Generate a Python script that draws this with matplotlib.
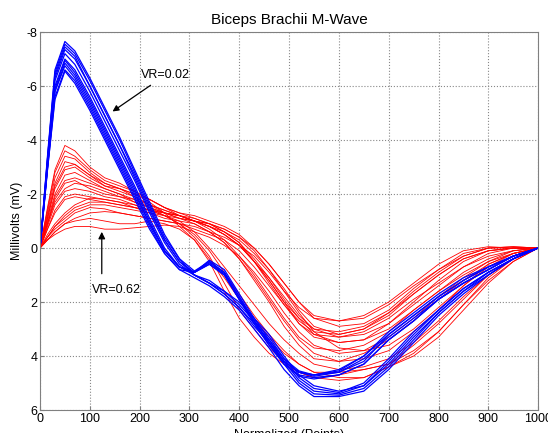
import matplotlib
matplotlib.use("Agg")
import matplotlib.pyplot as plt

plt.rcParams["font.family"] = ["Liberation Sans", "DejaVu Sans"]
plt.rcParams["axes.unicode_minus"] = False

# normalized sample positions (points)
x = [0, 15, 30, 50, 70, 100, 130, 160, 190, 220, 250, 280, 310, 340, 370,
     400, 430, 460, 490, 520, 550, 600, 650, 700, 750, 800, 850, 900, 950, 1000]

# VR=0.02 traces (blue)
blue = [
    [0, -3.4, -6.6, -7.65, -7.3, -6.3, -5.2, -4.1, -2.9, -1.7, -0.5, 0.4, 1.0, 1.3, 1.7,
     2.2, 2.8, 3.4, 4.2, 4.9, 5.3, 5.4, 5.1, 4.3, 3.3, 2.4, 1.6, 0.9, 0.4, 0],
    [0, -3.3, -6.5, -7.55, -7.2, -6.2, -5.1, -4.0, -2.8, -1.6, -0.4, 0.4, 0.85, 0.5, 0.9,
     1.8, 2.7, 3.5, 4.2, 4.6, 4.75, 4.6, 4.1, 3.3, 2.6, 1.9, 1.3, 0.8, 0.3, 0],
    [0, -3.3, -6.4, -7.45, -7.1, -6.0, -4.9, -3.8, -2.6, -1.4, -0.3, 0.5, 0.9, 0.45, 0.8,
     1.7, 2.6, 3.4, 4.1, 4.55, 4.7, 4.55, 4.0, 3.2, 2.5, 1.8, 1.2, 0.7, 0.3, 0],
    [0, -3.2, -6.3, -7.35, -7.0, -6.0, -4.9, -3.8, -2.7, -1.5, -0.3, 0.5, 1.0, 1.3, 1.6,
     2.1, 2.7, 3.3, 4.1, 4.8, 5.2, 5.35, 5.0, 4.1, 3.1, 2.3, 1.5, 0.9, 0.4, 0],
    [0, -3.1, -6.2, -7.2, -6.8, -5.8, -4.7, -3.6, -2.5, -1.3, -0.2, 0.6, 1.0, 1.2, 1.6,
     2.0, 2.6, 3.2, 4.0, 4.7, 5.1, 5.3, 5.1, 4.2, 3.2, 2.3, 1.5, 0.9, 0.4, 0],
    [0, -3.0, -6.0, -7.0, -6.6, -5.6, -4.5, -3.4, -2.3, -1.1, 0.0, 0.7, 0.9, 0.55, 0.95,
     1.9, 2.8, 3.6, 4.3, 4.7, 4.8, 4.7, 4.3, 3.4, 2.7, 1.9, 1.3, 0.8, 0.3, 0],
    [0, -3.1, -5.9, -6.95, -6.5, -5.5, -4.4, -3.3, -2.2, -1.0, 0.1, 0.7, 0.9, 0.5, 0.9,
     1.8, 2.7, 3.5, 4.2, 4.6, 4.7, 4.6, 4.2, 3.2, 2.5, 1.8, 1.2, 0.7, 0.3, 0],
    [0, -3.0, -5.8, -6.85, -6.4, -5.4, -4.3, -3.2, -2.1, -0.9, 0.1, 0.7, 1.0, 1.3, 1.7,
     2.2, 2.9, 3.5, 4.3, 5.0, 5.4, 5.45, 5.2, 4.4, 3.4, 2.4, 1.6, 1.0, 0.4, 0],
    [0, -3.0, -5.8, -6.75, -6.3, -5.3, -4.2, -3.1, -2.0, -0.9, 0.1, 0.7, 0.9, 0.6, 1.0,
     1.9, 2.8, 3.6, 4.3, 4.75, 4.85, 4.7, 4.3, 3.4, 2.7, 1.9, 1.3, 0.8, 0.3, 0],
    [0, -2.9, -5.6, -6.6, -6.2, -5.2, -4.1, -3.0, -1.9, -0.8, 0.2, 0.8, 1.1, 1.4, 1.8,
     2.3, 3.0, 3.7, 4.5, 5.1, 5.5, 5.5, 5.3, 4.5, 3.5, 2.5, 1.7, 1.0, 0.4, 0],
    [0, -2.9, -5.5, -6.55, -6.1, -5.1, -4.0, -2.9, -1.8, -0.7, 0.2, 0.8, 0.9, 0.6, 1.0,
     1.9, 2.7, 3.5, 4.2, 4.6, 4.7, 4.5, 4.0, 3.1, 2.4, 1.7, 1.1, 0.7, 0.3, 0],
]

# VR=0.62 traces (red)
red = [
    [0, -1.5, -2.9, -3.8, -3.6, -3.0, -2.6, -2.4, -2.1, -1.8, -1.5, -1.3, -1.1, -0.9, -0.6,
     -0.2, 0.5, 1.3, 2.1, 2.8, 3.2, 3.3, 3.1, 2.6, 1.9, 1.3, 0.7, 0.3, 0.1, 0],
    [0, -1.4, -2.8, -3.6, -3.4, -2.9, -2.5, -2.3, -2.1, -1.8, -1.5, -1.2, -1.0, -0.9, -0.7,
     -0.4, 0.1, 0.8, 1.6, 2.2, 2.6, 2.7, 2.5, 2.0, 1.3, 0.6, 0.1, -0.05, 0.0, 0],
    [0, -1.3, -2.6, -3.4, -3.3, -2.8, -2.4, -2.2, -2.0, -1.7, -1.3, -0.8, -0.3, 0.4, 1.1,
     1.9, 2.6, 3.3, 3.9, 4.3, 4.6, 4.6, 4.5, 4.3, 3.6, 2.8, 1.9, 1.0, 0.4, 0],
    [0, -1.2, -2.4, -3.2, -3.1, -2.7, -2.3, -2.2, -1.9, -1.6, -1.4, -1.2, -1.0, -0.7, -0.3,
     0.3, 1.0, 1.8, 2.6, 3.3, 3.7, 3.8, 3.6, 3.1, 2.3, 1.6, 1.0, 0.5, 0.2, 0],
    [0, -1.1, -2.2, -2.9, -3.0, -2.6, -2.3, -2.1, -1.9, -1.6, -1.3, -1.1, -0.9, -0.6, -0.2,
     0.4, 1.2, 2.0, 2.9, 3.6, 4.1, 4.2, 3.9, 3.4, 2.7, 1.9, 1.2, 0.6, 0.2, 0],
    [0, -1.0, -2.0, -2.7, -2.8, -2.5, -2.2, -2.0, -1.8, -1.5, -1.3, -1.2, -1.0, -0.8, -0.5,
     -0.1, 0.5, 1.2, 2.0, 2.6, 3.0, 3.1, 2.9, 2.4, 1.6, 0.9, 0.3, 0.0, -0.05, 0],
    [0, -0.9, -1.9, -2.5, -2.6, -2.4, -2.2, -2.0, -1.7, -1.5, -1.2, -1.0, -0.6, 0.0, 0.7,
     1.4, 2.1, 2.8, 3.4, 3.9, 4.3, 4.5, 4.4, 4.1, 3.5, 2.7, 1.8, 1.0, 0.4, 0],
    [0, -0.9, -1.7, -2.2, -2.4, -2.3, -2.1, -1.9, -1.7, -1.5, -1.3, -1.2, -1.0, -0.8, -0.6,
     -0.3, 0.2, 0.8, 1.5, 2.3, 2.9, 3.2, 3.0, 2.5, 1.7, 1.0, 0.4, 0.1, 0.0, 0],
    [0, -0.8, -1.6, -2.1, -2.2, -2.1, -1.9, -1.8, -1.6, -1.4, -1.2, -0.9, -0.5, 0.1, 0.9,
     1.7, 2.5, 3.2, 3.8, 4.3, 4.6, 4.8, 4.8, 4.4, 3.9, 3.1, 2.1, 1.1, 0.4, 0],
    [0, -0.7, -1.4, -1.9, -2.0, -1.9, -1.8, -1.7, -1.5, -1.3, -1.2, -1.1, -1.0, -0.8, -0.5,
     -0.1, 0.5, 1.2, 2.0, 2.8, 3.3, 3.5, 3.4, 3.0, 2.3, 1.6, 0.9, 0.4, 0.1, 0],
    [0, -0.7, -1.3, -1.8, -1.9, -1.8, -1.7, -1.6, -1.5, -1.4, -1.2, -0.9, -0.4, 0.3, 1.3,
     2.3, 3.0, 3.7, 4.2, 4.6, 4.8, 4.9, 4.8, 4.4, 4.0, 3.3, 2.3, 1.3, 0.5, 0],
    [0, -0.5, -0.9, -1.3, -1.6, -1.85, -1.8, -1.7, -1.6, -1.4, -1.3, -1.1, -1.0, -0.8, -0.5,
     -0.1, 0.5, 1.1, 1.8, 2.5, 3.0, 3.3, 3.2, 2.8, 2.0, 1.2, 0.5, 0.1, 0.0, 0],
    [0, -0.4, -0.8, -1.2, -1.5, -1.7, -1.7, -1.6, -1.5, -1.4, -1.3, -1.2, -1.0, -0.9, -0.7,
     -0.4, 0.0, 0.6, 1.3, 2.0, 2.6, 2.9, 2.8, 2.3, 1.5, 0.8, 0.3, 0.0, -0.05, 0],
    [0, -0.4, -0.8, -1.1, -1.4, -1.6, -1.6, -1.5, -1.4, -1.3, -1.1, -1.0, -0.9, -0.6, -0.2,
     0.4, 1.1, 1.9, 2.7, 3.4, 3.9, 4.2, 4.1, 3.8, 3.1, 2.3, 1.4, 0.7, 0.2, 0],
    [0, -0.4, -0.7, -1.0, -1.3, -1.5, -1.45, -1.3, -1.2, -1.1, -1.0, -0.9, -0.7, -0.5, -0.3,
     0.1, 0.7, 1.4, 2.1, 2.7, 3.1, 3.2, 3.0, 2.4, 1.7, 1.0, 0.4, 0.1, 0.0, 0],
    [0, -0.3, -0.6, -0.9, -1.1, -1.3, -1.35, -1.3, -1.2, -1.1, -1.0, -0.9, -0.8, -0.6, -0.4,
     -0.1, 0.3, 0.9, 1.6, 2.4, 3.1, 3.7, 3.8, 3.6, 3.0, 2.2, 1.4, 0.6, 0.2, 0],
    [0, -0.3, -0.5, -0.7, -0.8, -0.8, -0.7, -0.7, -0.75, -0.8, -0.85, -0.8, -0.6, -0.4, -0.1,
     0.3, 0.9, 1.6, 2.4, 3.1, 3.6, 3.9, 3.8, 3.3, 2.6, 1.8, 1.1, 0.5, 0.1, 0],
    [0, -0.3, -0.6, -0.9, -1.0, -1.1, -1.0, -0.9, -0.9, -1.0, -0.9, -0.7, -0.3, 0.5, 1.6,
     2.6, 3.3, 3.9, 4.3, 4.6, 4.8, 4.7, 4.5, 4.3, 3.8, 3.1, 2.1, 1.2, 0.5, 0],
    [0, -1.1, -2.3, -3.0, -3.1, -2.7, -2.4, -2.2, -2.0, -1.8, -1.5, -1.3, -1.2, -1.0, -0.8,
     -0.5, 0.0, 0.6, 1.3, 2.0, 2.5, 2.7, 2.6, 2.1, 1.4, 0.8, 0.2, 0.0, 0.0, 0],
    [0, -0.9, -1.8, -2.4, -2.5, -2.2, -2.0, -1.9, -1.8, -1.6, -1.4, -1.2, -1.1, -0.9, -0.6,
     -0.2, 0.4, 1.1, 1.9, 2.6, 3.2, 3.5, 3.4, 2.8, 2.1, 1.4, 0.7, 0.2, 0.0, 0],
]

fig = plt.figure(figsize=(5.48, 4.33), dpi=100)
ax = fig.add_axes([0.073, 0.053, 0.909, 0.873])

for y in red:
    ax.plot(x, y, color="#ff0000", linewidth=0.6)
for y in blue:
    ax.plot(x, y, color="#0000ff", linewidth=0.9)

ax.set_xlim(0, 1000)
ax.set_ylim(6, -8)
ax.set_xticks(range(0, 1001, 100))
ax.set_yticks(range(-8, 7, 2))
ax.grid(True, linestyle=":", color="#888888", linewidth=0.8)
for s in ax.spines.values():
    s.set_color("#808080")
ax.tick_params(labelsize=9, length=3, color="#808080", direction="in", pad=2)

ax.set_title("Biceps Brachii M-Wave", fontsize=11)
ax.set_xlabel("Normalized (Points)", fontsize=9, labelpad=3)
ax.set_ylabel("Millivolts (mV)", fontsize=9, labelpad=2)

ax.annotate("VR=0.02", xy=(141, -5.0), xytext=(203, -6.3), fontsize=9,
            arrowprops=dict(arrowstyle="-|>", color="black", lw=0.9))
ax.annotate("", xy=(124, -0.6), xytext=(124, 0.95),
            arrowprops=dict(arrowstyle="-|>", color="black", lw=0.9,
                            shrinkA=0, shrinkB=0))
ax.text(104, 1.55, "VR=0.62", fontsize=9, va="center")

plt.savefig("out.png", dpi=100)
